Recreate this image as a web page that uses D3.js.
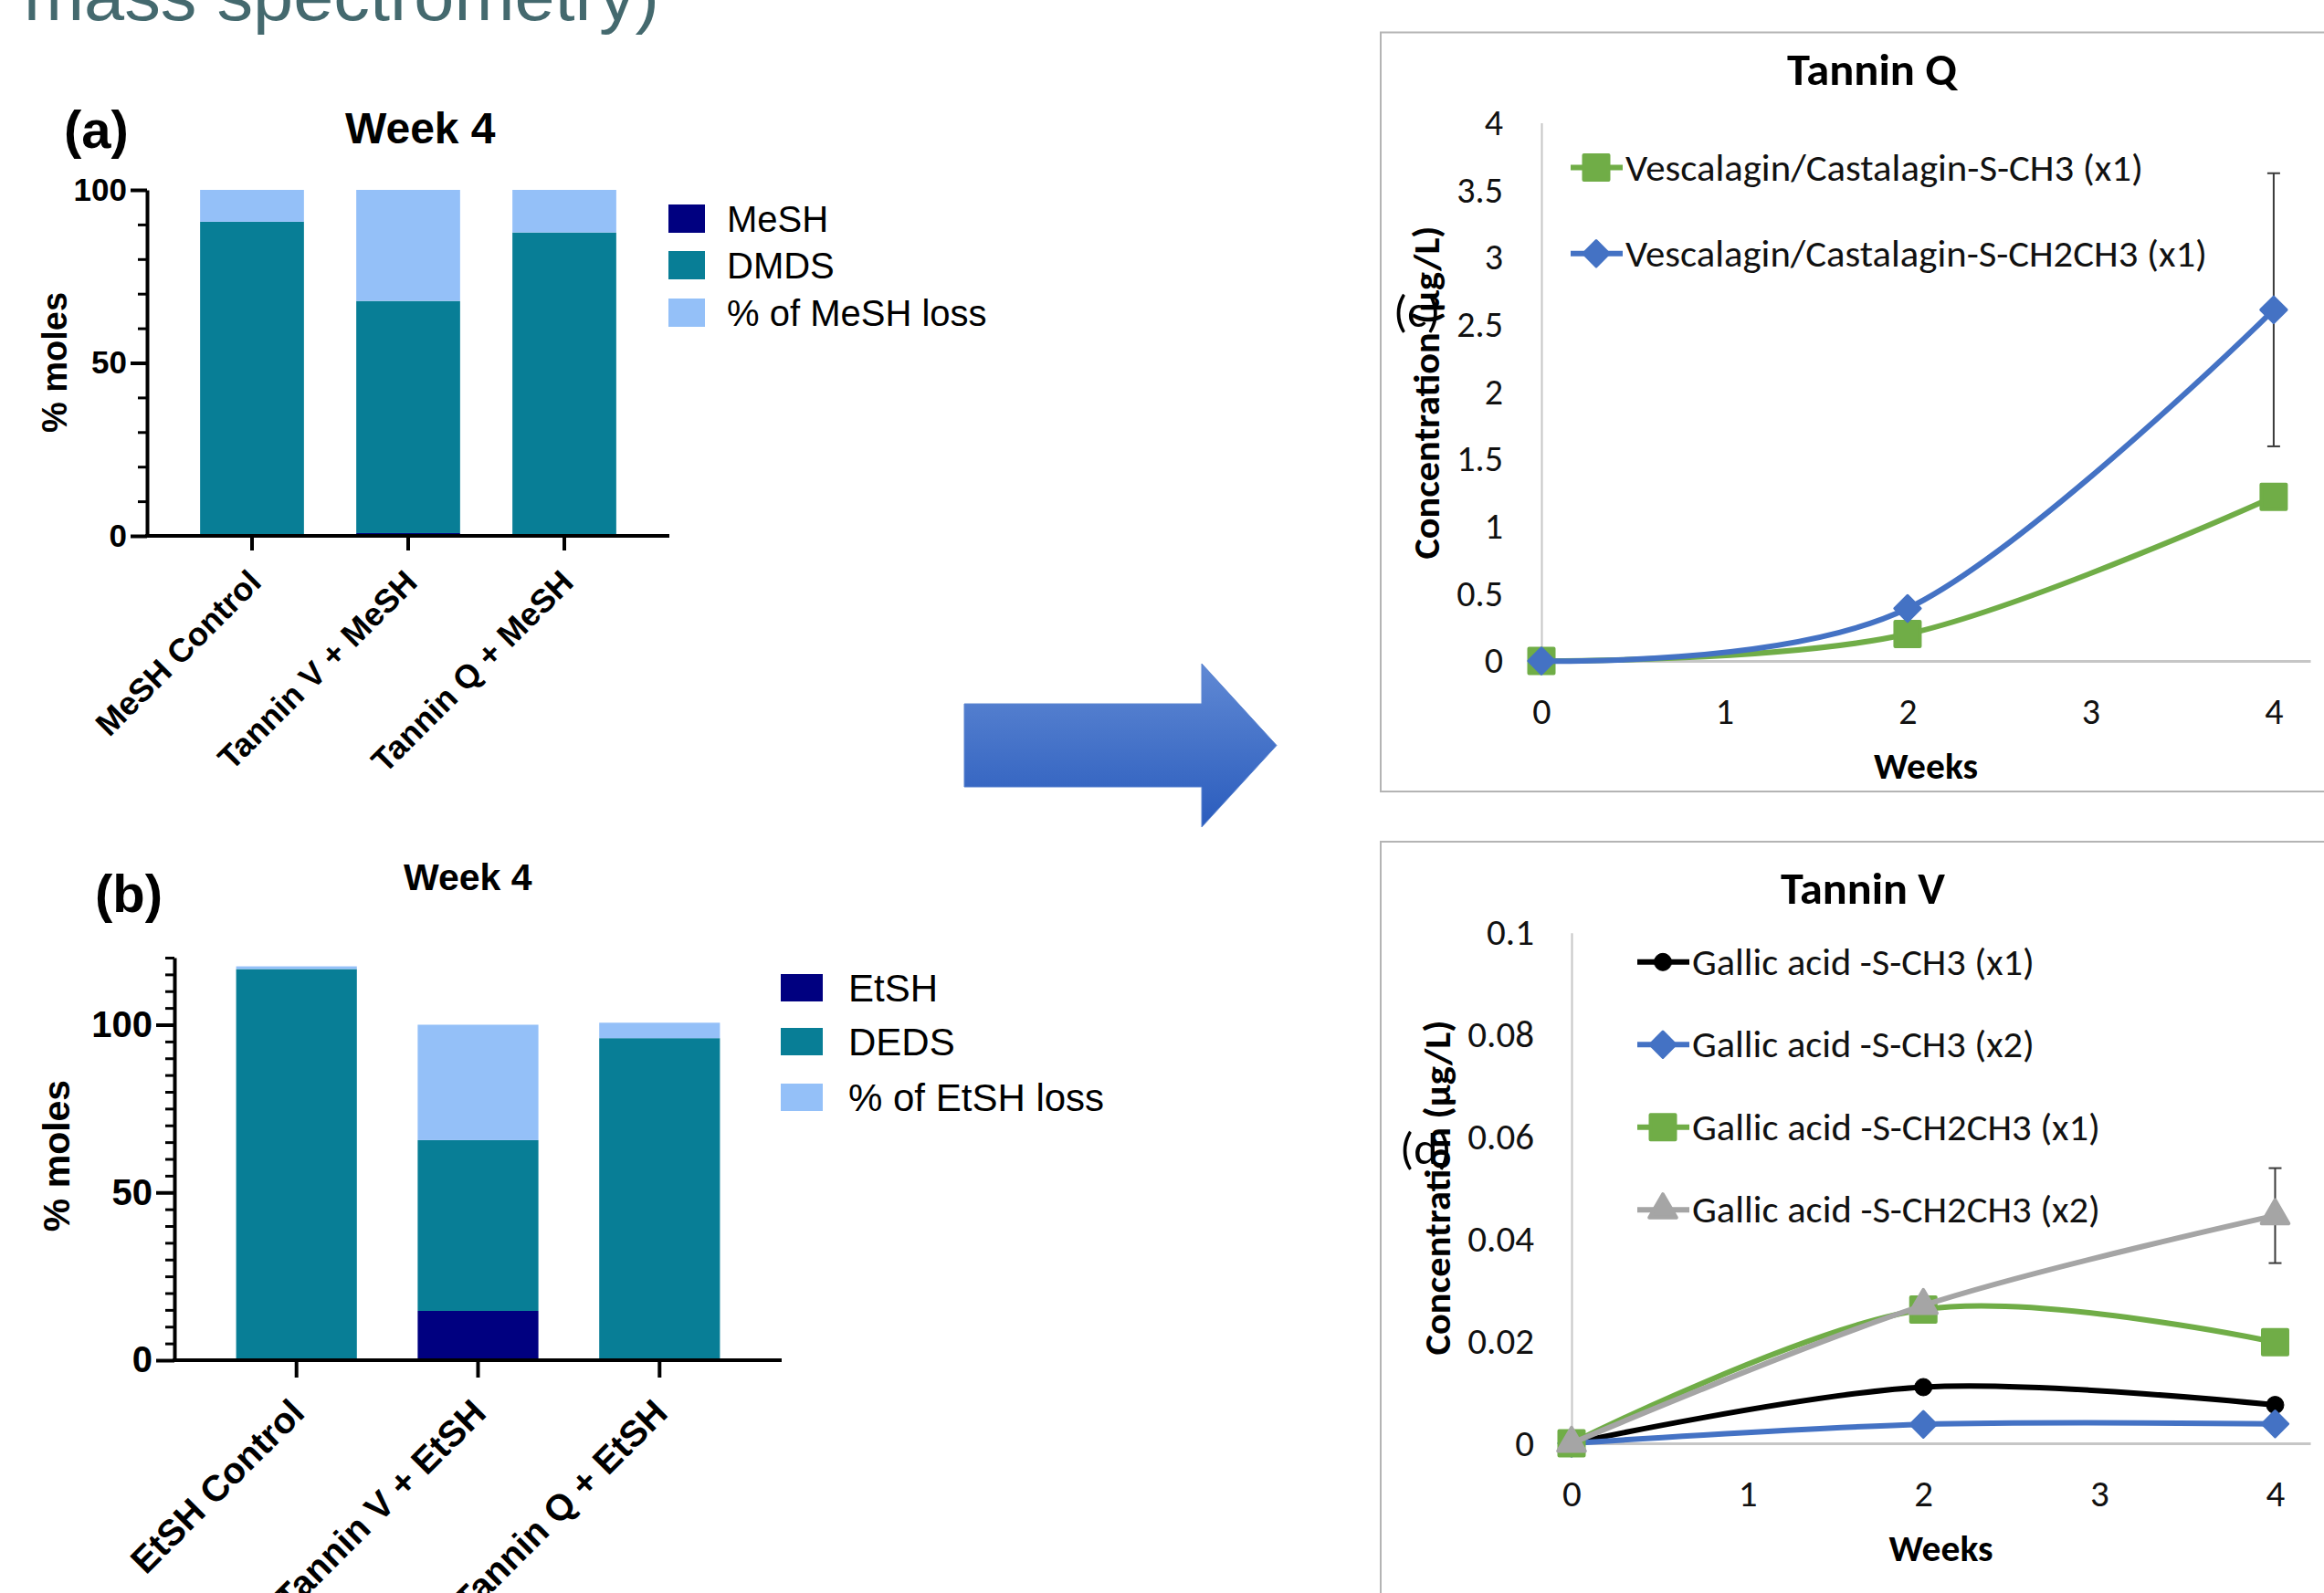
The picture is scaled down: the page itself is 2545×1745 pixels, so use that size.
<!DOCTYPE html>
<html><head><meta charset="utf-8">
<script src="https://cdn.jsdelivr.net/npm/d3@7"></script>
<style>html,body{margin:0;padding:0;background:#fff;overflow:hidden}svg{display:block}</style>
</head><body>
<script>
// ---------------- DATA ----------------
// Panel (a): MeSH, week 4 (% moles)
const catsA = ["MeSH Control", "Tannin V + MeSH", "Tannin Q + MeSH"];
const keysA = ["MeSH", "DMDS", "% of MeSH loss"];
const meshA = [0, 0.8, 0];
const dmdsA = [90.8, 67.1, 87.7];
const meshLossA = [9.2, 32.1, 12.3];
const majorTicksA = [0, 50, 100];
const minorTicksA = [10, 20, 30, 40, 60, 70, 80, 90];

// Panel (b): EtSH, week 4 (% moles)
const catsB = ["EtSH Control", "Tannin V + EtSH", "Tannin Q + EtSH"];
const keysB = ["EtSH", "DEDS", "% of EtSH loss"];
const etshB = [0, 14.7, 0];
const dedsB = [116.6, 50.9, 96.0];
const etshLossB = [0.8, 34.4, 4.6];
const majorTicksB = [0, 50, 100];
const minorTicksB = [5, 10, 15, 20, 25, 30, 35, 40, 45, 55, 60, 65, 70, 75, 80, 85, 90, 95, 105, 110, 115, 120];

// Panels (c),(d): concentration (µg/L) vs weeks
const weeks = [0, 2, 4];
const weekTicks = [0, 1, 2, 3, 4];
const tickLabelsQ = [0, 0.5, 1, 1.5, 2, 2.5, 3, 3.5, 4];
const tickLabelsV = [0, 0.02, 0.04, 0.06, 0.08, 0.1];
const namesQ = ["Vescalagin/Castalagin-S-CH3 (x1)", "Vescalagin/Castalagin-S-CH2CH3 (x1)"];
const qCH3 = [0, 0.20, 1.22];
const qCH2CH3 = [0, 0.39, 2.61];
const qCH2CH3Err = [0, 0, 1.015];
const namesV = ["Gallic acid -S-CH3 (x1)", "Gallic acid -S-CH3 (x2)", "Gallic acid -S-CH2CH3 (x1)", "Gallic acid -S-CH2CH3 (x2)"];
const vCH3x1 = [0, 0.0110, 0.0075];
const vCH3x2 = [0, 0.0037, 0.0038];
const vCH2CH3x1 = [0, 0.0262, 0.0198];
const vCH2CH3x2 = [0, 0.0270, 0.0446];
const vCH2CH3x2Err = [0, 0, 0.0093];

// ---------------- SETUP ----------------
const W = 2545, H = 1745;
const svg = d3.select("body").append("svg").attr("width", W).attr("height", H);
svg.append("rect").attr("width", W).attr("height", H).attr("fill", "#fff");
const PRISM = "'Liberation Sans', Arial, Helvetica, sans-serif";
const XL = "Carlito, Lato, 'Open Sans', sans-serif";

// partial slide title at the very top
svg.append("text").attr("x", 26).attr("y", 22)
  .attr("font-family", PRISM).attr("font-size", 76).attr("fill", "#44696e")
  .attr("textLength", 696).attr("lengthAdjust", "spacingAndGlyphs")
  .text("mass spectrometry)");

// ---------------- PRISM STACKED BARS ----------------
const barColors = ["#000080", "#087E96", "#94C0F8"];

function barChart(c) {
  const g = svg.append("g");
  const data = c.cats.map((cat, i) => {
    const o = { cat };
    c.keys.forEach((k, j) => o[k] = c.layers[j][i]);
    return o;
  });
  const stacked = d3.stack().keys(c.keys)(data);
  const x = d3.scaleBand().domain(c.cats).range(c.xRange).paddingInner(0.335).paddingOuter(0.34);
  const y = d3.scaleLinear().domain(c.yDomain).range(c.yRange);

  g.selectAll("g.layer").data(stacked).join("g").attr("class", "layer")
    .attr("fill", (d, i) => barColors[i])
    .selectAll("rect").data(d => d).join("rect")
    .attr("x", d => x(d.data.cat)).attr("width", x.bandwidth())
    .attr("y", d => y(d[1])).attr("height", d => Math.max(0, y(d[0]) - y(d[1])));

  // minor ticks
  g.append("g").attr("transform", `translate(${c.xRange[0]},0)`)
    .call(d3.axisLeft(y).tickValues(c.minor).tickSize(c.minorLen).tickFormat(""))
    .call(s => s.select(".domain").remove())
    .call(s => s.selectAll("line").attr("stroke", "#000").attr("stroke-width", 3));
  // major y axis
  g.append("g").attr("transform", `translate(${c.xRange[0]},0)`)
    .call(d3.axisLeft(y).tickValues(c.major).tickSize(c.majorLen).tickSizeOuter(0).tickPadding(4))
    .call(s => s.select(".domain").attr("stroke", "#000").attr("stroke-width", 4))
    .call(s => s.selectAll("line").attr("stroke", "#000").attr("stroke-width", 4))
    .call(s => s.selectAll("text").attr("font-family", PRISM).attr("font-weight", "bold")
      .attr("font-size", c.tickFont).attr("fill", "#000"));
  // x axis
  g.append("g").attr("transform", `translate(0,${c.yRange[0]})`)
    .call(d3.axisBottom(x).tickSize(c.xTickLen).tickSizeOuter(0))
    .call(s => s.select(".domain").attr("stroke", "#000").attr("stroke-width", 4)
      .attr("d", `M${c.xRange[0] - 2},0H${c.xRange[1]}`))
    .call(s => s.selectAll("line").attr("stroke", "#000").attr("stroke-width", 4))
    .call(s => s.selectAll("text").attr("x", 0).attr("y", 0).attr("dy", null)
      .attr("text-anchor", "end")
      .attr("transform", `translate(${c.xLabOff[0]},${c.xLabOff[1]}) rotate(-45)`)
      .attr("font-family", PRISM).attr("font-weight", "bold")
      .attr("font-size", c.xFont).attr("fill", "#000"));

  // titles
  g.append("text").attr("x", c.panel.x).attr("y", c.panel.y)
    .attr("font-family", PRISM).attr("font-weight", "bold").attr("font-size", 58)
    .text(c.panel.t);
  g.append("text").attr("x", c.title.x).attr("y", c.title.y)
    .attr("font-family", PRISM).attr("font-weight", "bold").attr("font-size", c.title.s)
    .text("Week 4");
  g.append("text").attr("transform", `translate(${c.ylab.x},${c.ylab.y}) rotate(-90)`)
    .attr("text-anchor", "middle")
    .attr("font-family", PRISM).attr("font-weight", "bold").attr("font-size", c.ylab.s)
    .text("% moles");

  // legend
  const lg = g.append("g");
  c.keys.forEach((k, i) => {
    const yy = c.leg.ys[i];
    lg.append("rect").attr("x", c.leg.x).attr("y", yy - c.leg.h / 2)
      .attr("width", c.leg.w).attr("height", c.leg.h).attr("fill", barColors[i]);
    lg.append("text").attr("x", c.leg.tx).attr("y", yy + c.leg.s * 0.36)
      .attr("font-family", PRISM).attr("font-size", c.leg.s).attr("fill", "#000").text(k);
  });
}

barChart({
  cats: catsA, keys: keysA, layers: [meshA, dmdsA, meshLossA],
  xRange: [161, 733], yDomain: [0, 100], yRange: [587, 208],
  major: majorTicksA, minor: minorTicksA, majorLen: 18, minorLen: 10,
  tickFont: 35, xTickLen: 16, xFont: 36, xLabOff: [12, 53],
  panel: { t: "(a)", x: 70, y: 162 }, title: { x: 378, y: 157, s: 48 },
  ylab: { x: 73, y: 397, s: 38 },
  leg: { x: 732, w: 40, h: 31, ys: [239.5, 290.5, 342.5], tx: 796, s: 40 }
});

barChart({
  cats: catsB, keys: keysB, layers: [etshB, dedsB, etshLossB],
  xRange: [191, 856], yDomain: [0, 120], yRange: [1490, 1490 - 120 * 3.675],
  major: majorTicksB, minor: minorTicksB, majorLen: 20, minorLen: 10,
  tickFont: 40, xTickLen: 19, xFont: 40, xLabOff: [11, 60],
  panel: { t: "(b)", x: 104, y: 999 }, title: { x: 442, y: 975, s: 41 },
  ylab: { x: 76, y: 1266, s: 41 },
  leg: { x: 855, w: 46, h: 30, ys: [1082, 1141, 1202], tx: 929, s: 42 }
});

// ---------------- ARROW ----------------
const defs = svg.append("defs");
const grad = defs.append("linearGradient").attr("id", "arrowGrad")
  .attr("x1", 0).attr("y1", 0).attr("x2", 0).attr("y2", 1);
grad.append("stop").attr("offset", "0%").attr("stop-color", "#6089d4");
grad.append("stop").attr("offset", "100%").attr("stop-color", "#2a5cbd");
const ax0 = 1056, ax1 = 1316, ax2 = 1398, ay0 = 727, ay1 = 771, ay2 = 862, ay3 = 906;
svg.append("path")
  .attr("d", `M${ax0},${ay1}H${ax1}V${ay0}L${ax2},${(ay0 + ay3) / 2}L${ax1},${ay3}V${ay2}H${ax0}Z`)
  .attr("fill", "url(#arrowGrad)").attr("stroke", "#5b84cf").attr("stroke-width", 1);

// ---------------- EXCEL LINE CHARTS ----------------
function marker(sym) {
  if (sym === "square") return { d: d3.symbol(d3.symbolSquare, 27 * 27)(), rot: 0, sw: 4 };
  if (sym === "diamond") return { d: d3.symbol(d3.symbolSquare, 20 * 20)(), rot: 45, sw: 3 };
  if (sym === "circle") return { d: d3.symbol(d3.symbolCircle, Math.PI * 9.5 * 9.5)(), rot: 0, sw: 1 };
  return { d: d3.symbol(d3.symbolTriangle, 380)(), rot: 0, sw: 4 };
}

function lineChart(c) {
  const g = svg.append("g");
  g.append("rect").attr("x", c.frame.x).attr("y", c.frame.y)
    .attr("width", W + 20 - c.frame.x).attr("height", c.frame.h)
    .attr("fill", "none").attr("stroke", "#b4b4b4").attr("stroke-width", 2);

  const x = d3.scaleLinear().domain([0, 4.2]).range(c.xRange);
  const y = d3.scaleLinear().domain(c.yDomain).range(c.yRange);

  g.append("g").attr("transform", `translate(${c.xRange[0]},0)`)
    .call(d3.axisLeft(y).tickValues(c.yTicks).tickSize(0).tickSizeOuter(0).tickPadding(c.yPad)
      .tickFormat(d => String(d)))
    .call(s => s.select(".domain").attr("stroke", "#c6c6c6").attr("stroke-width", 2))
    .call(s => s.selectAll("text").attr("font-family", XL).attr("font-size", c.tickFont).attr("fill", "#111"));
  g.append("g").attr("transform", `translate(0,${c.yRange[0]})`)
    .call(d3.axisBottom(x).tickValues(weekTicks).tickSize(0).tickSizeOuter(0).tickPadding(c.xPad)
      .tickFormat(d => String(d)))
    .call(s => s.select(".domain").attr("stroke", "#c6c6c6").attr("stroke-width", 3))
    .call(s => s.selectAll("text").attr("font-family", XL).attr("font-size", c.tickFont).attr("fill", "#111"));

  // titles
  g.append("text").attr("x", c.title.x).attr("y", c.title.y).attr("text-anchor", "middle")
    .attr("font-family", XL).attr("font-weight", "bold").attr("font-size", 48)
    .attr("textLength", c.title.w).attr("lengthAdjust", "spacingAndGlyphs").text(c.title.t);
  g.append("text").attr("x", c.weeks.x).attr("y", c.weeks.y).attr("text-anchor", "middle")
    .attr("font-family", XL).attr("font-weight", "bold").attr("font-size", 40)
    .attr("textLength", 114).attr("lengthAdjust", "spacingAndGlyphs").text("Weeks");
  g.append("text").attr("x", c.panel.x).attr("y", c.panel.y)
    .attr("font-family", XL).attr("font-size", 50).text(c.panel.t);
  g.append("text").attr("transform", `translate(${c.ylab.x},${c.ylab.y}) rotate(-90)`)
    .attr("text-anchor", "middle")
    .attr("font-family", XL).attr("font-weight", "bold").attr("font-size", 40)
    .attr("textLength", c.ylab.w).attr("lengthAdjust", "spacingAndGlyphs")
    .text("Concentration (µg/L)");

  const line = d3.line().x((d, i) => x(weeks[i])).y(d => y(d)).curve(d3.curveCardinal.tension(0));

  c.series.forEach(s => {
    const sg = g.append("g");
    sg.append("path").attr("d", line(s.vals)).attr("fill", "none")
      .attr("stroke", s.color).attr("stroke-width", 6)
      .attr("stroke-linecap", "round").attr("stroke-linejoin", "round");
    if (s.err) {
      s.err.forEach((e, i) => {
        if (!e) return;
        const xx = x(weeks[i]), yt = y(s.vals[i] + e), yb = y(s.vals[i] - e);
        const eg = sg.append("g").attr("stroke", "#3a3a3a").attr("stroke-width", 2);
        eg.append("line").attr("x1", xx).attr("x2", xx).attr("y1", yt).attr("y2", yb);
        eg.append("line").attr("x1", xx - 7).attr("x2", xx + 7).attr("y1", yt).attr("y2", yt);
        eg.append("line").attr("x1", xx - 7).attr("x2", xx + 7).attr("y1", yb).attr("y2", yb);
      });
    }
    const m = marker(s.sym);
    sg.selectAll("path.mk").data(s.vals).join("path").attr("class", "mk")
      .attr("d", m.d)
      .attr("transform", (d, i) => `translate(${x(weeks[i])},${y(d)}) rotate(${m.rot})`)
      .attr("fill", s.color).attr("stroke", s.color).attr("stroke-width", m.sw)
      .attr("stroke-linejoin", "round");
  });

  // legend
  c.series.forEach((s, i) => {
    const yy = c.leg.ys[i];
    g.append("line").attr("x1", c.leg.x1).attr("x2", c.leg.x2).attr("y1", yy).attr("y2", yy)
      .attr("stroke", s.color).attr("stroke-width", 6);
    const m = marker(s.sym);
    g.append("path").attr("d", m.d)
      .attr("transform", `translate(${c.leg.mx},${yy}) rotate(${m.rot})`)
      .attr("fill", s.color).attr("stroke", s.color).attr("stroke-width", m.sw)
      .attr("stroke-linejoin", "round");
    g.append("text").attr("x", c.leg.tx).attr("y", yy + 14)
      .attr("font-family", XL).attr("font-size", 41).attr("fill", "#111")
      .attr("textLength", c.leg.widths[i]).attr("lengthAdjust", "spacingAndGlyphs")
      .text(s.name);
  });
}

lineChart({
  frame: { x: 1512, y: 35.5, h: 831.5 },
  xRange: [1688, 2530], yDomain: [0, 4], yRange: [724, 134.5],
  yTicks: tickLabelsQ, yPad: 42, xPad: 41, tickFont: 40,
  title: { t: "Tannin Q", x: 2050, y: 93, w: 186 },
  weeks: { x: 2109, y: 853 },
  panel: { t: "(c)", x: 1526, y: 358 },
  ylab: { x: 1576, y: 430, w: 365 },
  leg: { x1: 1720, x2: 1777, mx: 1748, tx: 1780, ys: [183.5, 277.8], widths: [567, 637] },
  series: [
    { name: namesQ[0], vals: qCH3, color: "#70AD47", sym: "square" },
    { name: namesQ[1], vals: qCH2CH3, color: "#4472C4", sym: "diamond", err: qCH2CH3Err }
  ]
});

lineChart({
  frame: { x: 1512, y: 922, h: 900 },
  xRange: [1721, 2530], yDomain: [0, 0.1], yRange: [1581, 1021.8],
  yTicks: tickLabelsV, yPad: 41, xPad: 40, tickFont: 41,
  title: { t: "Tannin V", x: 2040, y: 990, w: 180 },
  weeks: { x: 2125.5, y: 1710 },
  panel: { t: "(d)", x: 1533, y: 1275 },
  ylab: { x: 1588, y: 1301, w: 367 },
  leg: { x1: 1793, x2: 1850, mx: 1821, tx: 1853, ys: [1053.8, 1144.3, 1234.8, 1325.3], widths: [375, 375, 447, 447] },
  series: [
    { name: namesV[0], vals: vCH3x1, color: "#000000", sym: "circle" },
    { name: namesV[1], vals: vCH3x2, color: "#4472C4", sym: "diamond" },
    { name: namesV[2], vals: vCH2CH3x1, color: "#70AD47", sym: "square" },
    { name: namesV[3], vals: vCH2CH3x2, color: "#A5A5A5", sym: "triangle", err: vCH2CH3x2Err }
  ]
});
</script>
</body></html>
